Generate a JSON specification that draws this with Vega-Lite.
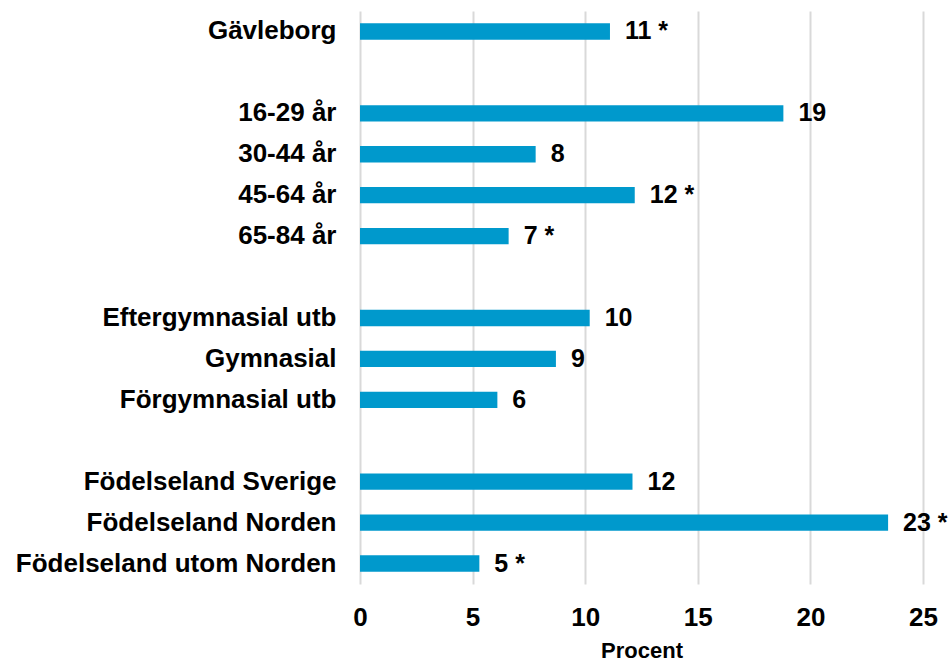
{
  "$schema": "https://vega.github.io/schema/vega-lite/v6.json",
  "autosize": "none",
  "width": 563,
  "height": 573,
  "padding": {"left": 360, "top": 11, "right": 25, "bottom": 82},
  "background": "white",
  "config": {
    "view": {"stroke": null},
    "font": "Liberation Sans"
  },
  "data": {
    "values": [
      {"grupp": "Gävleborg", "procent": 11.1, "etikett": "11 *"},
      {"grupp": "16-29 år", "procent": 18.8, "etikett": "19"},
      {"grupp": "30-44 år", "procent": 7.8, "etikett": "8"},
      {"grupp": "45-64 år", "procent": 12.2, "etikett": "12 *"},
      {"grupp": "65-84 år", "procent": 6.6, "etikett": "7 *"},
      {"grupp": "Eftergymnasial utb", "procent": 10.2, "etikett": "10"},
      {"grupp": "Gymnasial", "procent": 8.7, "etikett": "9"},
      {"grupp": "Förgymnasial utb", "procent": 6.1, "etikett": "6"},
      {"grupp": "Födelseland Sverige", "procent": 12.1, "etikett": "12"},
      {"grupp": "Födelseland Norden", "procent": 23.45, "etikett": "23 *"},
      {"grupp": "Födelseland utom Norden", "procent": 5.3, "etikett": "5 *"}
    ]
  },
  "encoding": {
    "y": {
      "field": "grupp",
      "type": "nominal",
      "scale": {
        "domain": ["Gävleborg", " ", "16-29 år", "30-44 år", "45-64 år", "65-84 år", "  ", "Eftergymnasial utb", "Gymnasial", "Förgymnasial utb", "   ", "Födelseland Sverige", "Födelseland Norden", "Födelseland utom Norden"],
        "paddingInner": 0.6,
        "paddingOuter": 0.3
      },
      "axis": {
        "title": null,
        "domain": false,
        "ticks": false,
        "tickSize": 0,
        "labelPadding": 24,
        "labelLimit": 0,
        "labelFont": "Liberation Sans",
        "labelFontSize": 26,
        "labelFontWeight": "bold",
        "labelColor": "#000000",
        "grid": false
      }
    },
    "x": {
      "field": "procent",
      "type": "quantitative",
      "scale": {"domain": [0, 25], "nice": false},
      "axis": {
        "title": "Procent",
        "values": [0, 5, 10, 15, 20, 25],
        "domain": false,
        "ticks": false,
        "tickSize": 0,
        "grid": true,
        "gridColor": "#d9d9d9",
        "gridWidth": 2,
        "labelPadding": 20,
        "labelFlush": false,
        "labelFont": "Liberation Sans",
        "labelFontSize": 26,
        "labelFontWeight": "bold",
        "labelColor": "#000000",
        "titleFont": "Liberation Sans",
        "titleFontSize": 22,
        "titleFontWeight": "bold",
        "titleColor": "#000000",
        "titlePadding": 10
      }
    }
  },
  "layer": [
    {
      "mark": {"type": "bar", "color": "#0099cc"}
    },
    {
      "mark": {
        "type": "text",
        "align": "left",
        "baseline": "middle",
        "dx": 15,
        "font": "Liberation Sans",
        "fontSize": 25,
        "fontWeight": "bold",
        "color": "#000000"
      },
      "encoding": {"text": {"field": "etikett"}}
    }
  ]
}
